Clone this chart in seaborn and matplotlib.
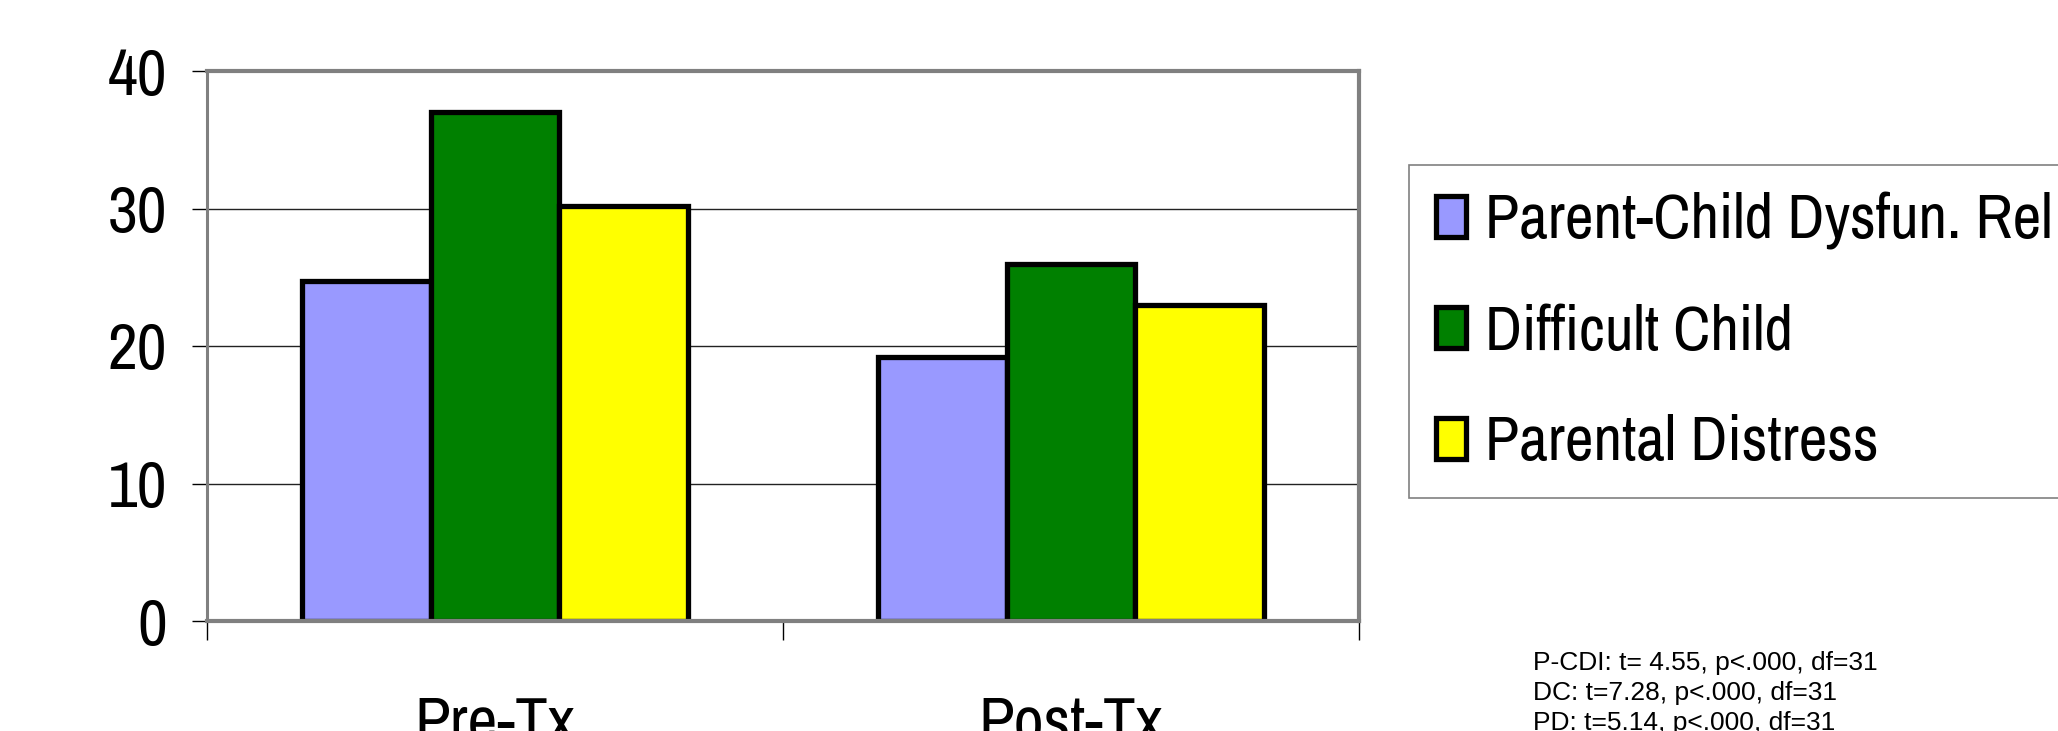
import numpy as np
import pandas as pd
import matplotlib
matplotlib.use("Agg")
import matplotlib.pyplot as plt
from matplotlib import font_manager
from matplotlib.patches import Patch
import seaborn as sns

# Mean scores by treatment phase
phases = ["Pre-Tx", "Post-Tx"]
scales = ["Parent-Child Dysfun. Rel", "Difficult Child", "Parental Distress"]
pcdi = [24.7, 19.2]
difficult_child = [37.0, 26.0]
parental_distress = [30.2, 23.0]
y_ticks = [0, 10, 20, 30, 40]
stats_lines = [
    "P-CDI: t= 4.55, p<.000, df=31",
    "DC: t=7.28, p<.000, df=31",
    "PD: t=5.14, p<.000, df=31",
]
colors = ["#9999FF", "#008000", "#FFFF00"]

df = pd.DataFrame({
    "phase": phases * 3,
    "scale": np.repeat(scales, len(phases)),
    "score": pcdi + difficult_child + parental_distress,
})

sns.set_style("white")
available = {f.name for f in font_manager.fontManager.ttflist}
narrow = next((n for n in ["Liberation Sans Narrow", "Archivo Narrow", "PT Sans Narrow"]
               if n in available), "Liberation Sans")
plt.rcParams["font.family"] = [narrow, "DejaVu Sans"]
plt.rcParams["text.color"] = "black"
plt.rcParams["xtick.labelcolor"] = "black"
plt.rcParams["ytick.labelcolor"] = "black"

W, H = 2058, 731
fig = plt.figure(figsize=(W / 100, H / 100), dpi=100)
ax = fig.add_axes([207 / W, 1 - 621 / H, (1359 - 207) / W, (621 - 71) / H])

sns.barplot(data=df, x="phase", y="score", hue="scale", order=phases,
            hue_order=scales, palette=colors, saturation=1, width=0.67,
            gap=0, edgecolor="black", linewidth=3.8, errorbar=None, ax=ax)

if ax.get_legend() is not None:
    ax.get_legend().remove()

ax.set_xlim(-0.5, 1.5)
ax.set_ylim(0, 40)
ax.set_yticks(y_ticks)
ax.set_xlabel("")
ax.set_ylabel("")
ax.yaxis.grid(True, color="#222222", linewidth=1.0)
ax.xaxis.grid(False)
ax.set_axisbelow(True)

for name, sp in ax.spines.items():
    sp.set_visible(True)
    sp.set_color("#808080")
    sp.set_linewidth(2.2 if name == "left" else 3.0)

ax.tick_params(axis="y", left=True, direction="out", length=10.8, width=1,
               color="black", pad=18, labelsize=47, labelcolor="black")
ax.set_xticks([0, 1])
ax.set_xticklabels(phases)
ax.tick_params(axis="x", which="major", bottom=True, length=0, pad=53,
               labelsize=47, labelcolor="black")
ax.set_xticks([-0.5, 0.5, 1.5], minor=True)
ax.tick_params(axis="x", which="minor", bottom=True, direction="out",
               length=13.7, width=1, color="black")

handles = [Patch(facecolor=c, edgecolor="black", linewidth=3.8) for c in colors]
leg = fig.legend(handles, scales, loc="upper left",
                 bbox_to_anchor=(1409 / W, 1 - 165 / H),
                 bbox_transform=fig.transFigure, borderaxespad=0,
                 frameon=True, fancybox=False, edgecolor="#808080",
                 framealpha=1, fontsize=45, handlelength=0.48,
                 handleheight=0.64, handletextpad=0.3, labelspacing=0.86,
                 borderpad=0.43, labelcolor="black")
leg.get_frame().set_linewidth(1.2)

for i, line in enumerate(stats_lines):
    fig.text(1533 / W, 1 - (670 + 30 * i) / H, line, fontsize=19, color="black",
             family=["Liberation Sans", "DejaVu Sans"], va="baseline", ha="left")

fig.savefig("out.png", dpi=100)
